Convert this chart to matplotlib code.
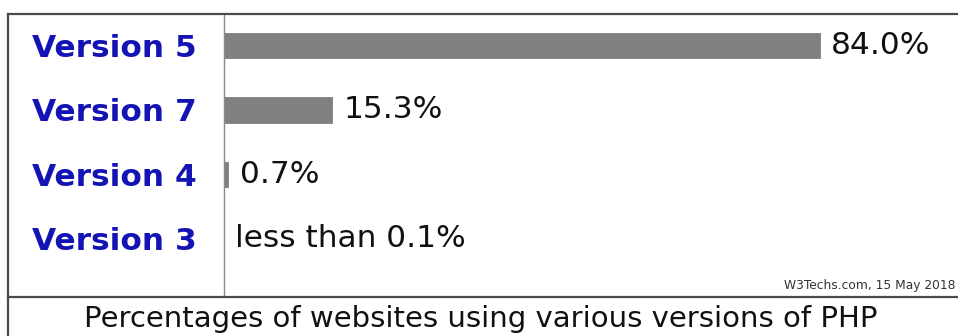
"""PHP version usage bar chart (W3Techs style)"""

import matplotlib
matplotlib.use('Agg')
import matplotlib.pyplot as plt
from matplotlib.lines import Line2D

versions = ['Version 5', 'Version 7', 'Version 4', 'Version 3']
shares = [84.0, 15.3, 0.7, 0.1]
share_labels = ['84.0%', '15.3%', '0.7%', 'less than 0.1%']
source_note = 'W3Techs.com, 15 May 2018'
caption = 'Percentages of websites using various versions of PHP'

W, H = 958, 336
BORDER = '#4a4a4a'
BAR = '#808080'
BLUE = '#1414b4'


def px(x, y):
	"""pixel coords (top-left origin) -> figure fraction"""
	return x / W, 1 - y / H


fig = plt.figure(figsize=(W / 100, H / 100), dpi=100)
fig.patch.set_facecolor('white')

left, top, bottom = 223.5, 14, 297
x0, y0 = px(left, bottom)
ax = fig.add_axes([x0, y0, 1 - x0, (bottom - top) / H])

ax.barh(range(len(versions)), shares, height=0.39, color=BAR,
		edgecolor=BAR, linewidth=0.6)
ax.set_xlim(0, (W - left) / 7.1)
ax.set_ylim(3.9, -0.488)

ax.set_yticks(range(len(versions)))
ax.set_yticklabels(versions, fontsize=22.5, fontweight='bold', color=BLUE)
ax.tick_params(axis='y', length=0, pad=19)
ax.set_xticks([])

for spine in ['top', 'right', 'bottom']:
	ax.spines[spine].set_visible(False)
ax.spines['left'].set_color('#8a8a8a')
ax.spines['left'].set_linewidth(1.0)

for i, (val, lab) in enumerate(zip(shares, share_labels)):
	ax.annotate(lab, xy=(val, i), xytext=(8, 0), textcoords='offset points',
				va='center', ha='left', fontsize=22.5, color='#111111')

# outer frame and footer separator
for (xa, ya), (xb, yb) in [
	((8, 14), (W, 14)),
	((8, 14), (8, H)),
	((8, 297), (W, 297)),
]:
	fig.add_artist(Line2D([xa / W, xb / W], [1 - ya / H, 1 - yb / H],
						  transform=fig.transFigure, color=BORDER, lw=1.6))

fig.text(*px(955, 285), source_note, ha='right', va='center',
		 fontsize=8.8, color='#333333')
fig.text(*px(481, 319), caption, ha='center', va='center',
		 fontsize=21, color='#111111')

fig.savefig('out.png', dpi=100)
